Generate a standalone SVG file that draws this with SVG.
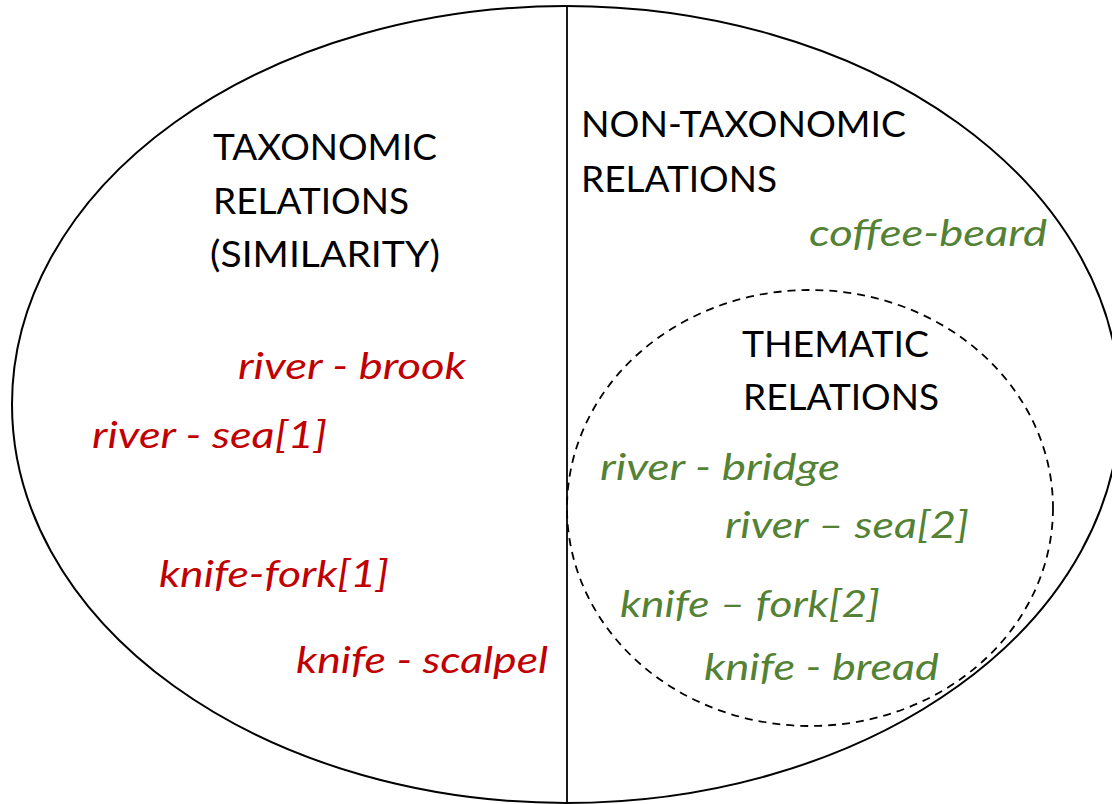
<svg xmlns="http://www.w3.org/2000/svg" width="1112" height="804" viewBox="0 0 1112 804">
  <style>
    .bg { fill: #ffffff; }
    .outline { fill: none; stroke: #000000; stroke-width: 2; }
    .divider { stroke: #000000; stroke-width: 1.8; }
    .dashed { fill: none; stroke: #000000; stroke-width: 1.8; stroke-dasharray: 8 6; }
    .head { font-family: Lato, "Liberation Sans", sans-serif; font-size: 37px; fill: #000000; }
    .red { font-family: Lato, "Liberation Sans", sans-serif; font-size: 37px; font-style: italic; fill: #C00000; }
    .green { font-family: Lato, "Liberation Sans", sans-serif; font-size: 37px; font-style: italic; fill: #548235; }
  </style>
  <rect class="bg" x="0" y="0" width="1112" height="804"/>

  <g id="outer-ellipse">
    <ellipse class="outline" cx="566" cy="404.5" rx="554" ry="398.5"/>
  </g>

  <g id="connectors">
    <line class="divider" x1="567" y1="6" x2="567" y2="804"/>
  </g>

  <g id="taxonomic">
    <text class="head" x="213" y="160" textLength="224" lengthAdjust="spacingAndGlyphs">TAXONOMIC</text>
    <text class="head" x="213" y="214" textLength="196" lengthAdjust="spacingAndGlyphs">RELATIONS</text>
    <text class="head" x="210" y="267" textLength="230" lengthAdjust="spacingAndGlyphs">(SIMILARITY)</text>
  </g>

  <g id="taxonomic-examples">
    <text class="red" x="238" y="379" textLength="228" lengthAdjust="spacingAndGlyphs">river - brook</text>
    <text class="red" x="92" y="448" textLength="235" lengthAdjust="spacingAndGlyphs">river - sea[1]</text>
    <text class="red" x="159" y="587" textLength="230" lengthAdjust="spacingAndGlyphs">knife-fork[1]</text>
    <text class="red" x="296" y="673" textLength="252" lengthAdjust="spacingAndGlyphs">knife - scalpel</text>
  </g>

  <g id="non-taxonomic">
    <text class="head" x="581" y="137" textLength="325" lengthAdjust="spacingAndGlyphs">NON-TAXONOMIC</text>
    <text class="head" x="581" y="192" textLength="196" lengthAdjust="spacingAndGlyphs">RELATIONS</text>
    <text class="green" x="809" y="246" textLength="238" lengthAdjust="spacingAndGlyphs">coffee-beard</text>
  </g>

  <g id="thematic">
    <ellipse class="dashed" cx="810" cy="508" rx="243" ry="218"/>
    <text class="head" x="742" y="357" textLength="187" lengthAdjust="spacingAndGlyphs">THEMATIC</text>
    <text class="head" x="743" y="410" textLength="196" lengthAdjust="spacingAndGlyphs">RELATIONS</text>
    <text class="green" x="600" y="480" textLength="240" lengthAdjust="spacingAndGlyphs">river - bridge</text>
    <text class="green" x="725" y="538" textLength="244" lengthAdjust="spacingAndGlyphs">river – sea[2]</text>
    <text class="green" x="620" y="617" textLength="260" lengthAdjust="spacingAndGlyphs">knife – fork[2]</text>
    <text class="green" x="704" y="680" textLength="235" lengthAdjust="spacingAndGlyphs">knife - bread</text>
  </g>
</svg>
